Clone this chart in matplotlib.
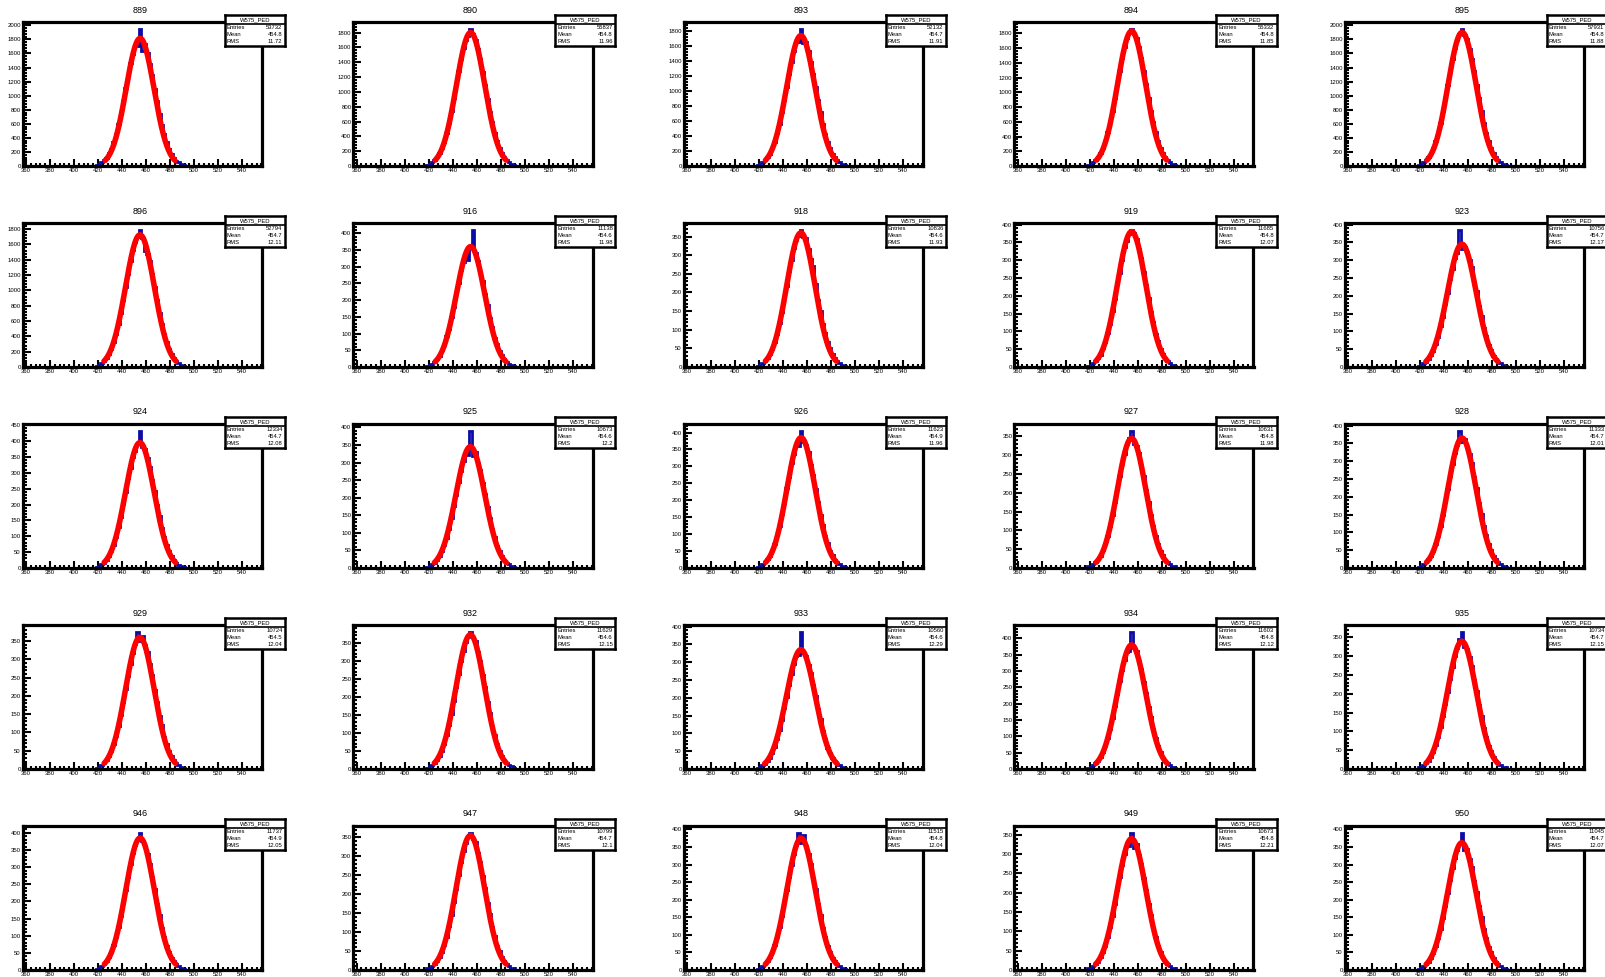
import numpy as np
import matplotlib
matplotlib.use("Agg")
import matplotlib.pyplot as plt
from matplotlib.ticker import MultipleLocator

plt.rcParams['font.family'] = ['Liberation Sans', 'DejaVu Sans']

# ---------------- data ----------------
channels = [889, 890, 893, 894, 895,
            896, 916, 918, 919, 923,
            924, 925, 926, 927, 928,
            929, 932, 933, 934, 935,
            946, 947, 948, 949, 950]
entries = [53732, 55837, 52132, 55332, 57931,
           52794, 11138, 10836, 11685, 10756,
           12334, 10673, 11623, 10631, 11333,
           10724, 11629, 10560, 11603, 10734,
           11737, 10799, 11515, 10673, 11045]
means = [454.8, 454.8, 454.7, 454.8, 454.8,
         454.7, 454.6, 454.6, 454.8, 454.7,
         454.7, 454.6, 454.9, 454.8, 454.7,
         454.5, 454.6, 454.6, 454.8, 454.7,
         454.9, 454.7, 454.8, 454.8, 454.7]
rms = [11.72, 11.96, 11.91, 11.85, 11.88,
       12.11, 11.98, 11.93, 12.07, 12.17,
       12.08, 12.2, 11.96, 11.98, 12.01,
       12.04, 12.15, 12.29, 12.12, 12.15,
       12.05, 12.1, 12.04, 12.21, 12.07]
hist_name = "W575_PED"

# gaussian fit parameters
fit_amp = [1815, 1800, 1740, 1830, 1900,
           1725, 360, 360, 380, 345,
           395, 345, 385, 345, 365,
           360, 372, 335, 380, 340,
           385, 355, 375, 340, 362]
fit_mean = [455.0, 455.0, 454.8, 455.0, 455.0,
            454.9, 455.0, 454.8, 455.0, 454.8,
            454.8, 454.8, 455.0, 455.0, 454.9,
            454.8, 454.8, 454.8, 455.0, 454.8,
            455.0, 454.8, 455.0, 455.0, 454.8]
fit_sigma = [11.6, 11.8, 11.8, 11.7, 11.7,
             12.0, 11.8, 11.8, 11.9, 12.0,
             11.9, 12.0, 11.8, 11.8, 11.8,
             11.9, 12.0, 12.1, 11.9, 12.0,
             11.9, 11.9, 11.9, 12.0, 11.9]

# histogram contents (2-ADC wide bins starting at 418)
bin_start = 418
bin_width = 2
h889 = [20, 35, 50, 85, 118, 178, 240, 345, 450, 600, 740, 925, 1110, 1280, 1470, 1590, 1720, 1700, 1950, 1640, 1730, 1600, 1450, 1300, 1100, 930, 745, 590, 455, 335, 245, 170, 120, 78, 52, 30, 18]
h890 = [18, 30, 52, 80, 120, 170, 245, 330, 450, 585, 740, 915, 1090, 1275, 1440, 1590, 1700, 1760, 1850, 1780, 1700, 1580, 1450, 1270, 1095, 910, 735, 590, 445, 335, 240, 175, 118, 80, 50, 32, 18]
h893 = [17, 30, 50, 77, 115, 165, 235, 325, 435, 565, 715, 880, 1055, 1230, 1390, 1530, 1650, 1660, 1830, 1640, 1650, 1530, 1390, 1230, 1060, 880, 715, 565, 430, 325, 235, 165, 115, 77, 50, 30, 17]
h894 = [19, 33, 53, 81, 121, 176, 247, 340, 455, 595, 752, 926, 1111, 1294, 1466, 1614, 1731, 1800, 1860, 1790, 1730, 1610, 1470, 1290, 1110, 925, 750, 595, 455, 340, 245, 175, 120, 80, 52, 32, 19]
h895 = [21, 34, 55, 84, 125, 182, 256, 353, 473, 617, 781, 961, 1153, 1343, 1522, 1676, 1797, 1870, 1950, 1860, 1800, 1670, 1520, 1345, 1150, 960, 780, 615, 472, 352, 256, 182, 125, 84, 55, 34, 21]
h896 = [18, 31, 50, 76, 114, 166, 233, 321, 430, 561, 709, 873, 1047, 1220, 1382, 1521, 1632, 1700, 1790, 1690, 1520, 1480, 1380, 1220, 1050, 870, 710, 560, 430, 320, 233, 166, 114, 76, 50, 31, 18]
h916 = [4, 7, 10, 15, 25, 34, 50, 66, 92, 115, 150, 180, 222, 252, 290, 315, 335, 320, 360, 410, 340, 318, 285, 258, 217, 184, 146, 119, 88, 68, 48, 35, 24, 16, 10, 6, 3]
h918 = [4, 6, 11, 16, 23, 36, 48, 68, 89, 118, 147, 184, 218, 257, 287, 320, 340, 352, 368, 350, 345, 316, 290, 270, 222, 180, 150, 115, 90, 66, 50, 34, 24, 15, 10, 6, 4]
h919 = [4, 7, 11, 17, 26, 35, 52, 70, 96, 122, 158, 190, 235, 265, 300, 338, 355, 372, 385, 376, 360, 332, 306, 268, 230, 194, 155, 125, 93, 72, 50, 37, 26, 17, 11, 7, 4]
h923 = [4, 6, 10, 15, 22, 34, 46, 65, 85, 114, 140, 177, 207, 246, 274, 306, 320, 385, 330, 338, 322, 300, 280, 240, 212, 172, 144, 110, 88, 62, 48, 32, 23, 15, 10, 6, 4]
h924 = [4, 7, 12, 17, 25, 39, 52, 74, 97, 130, 160, 202, 238, 282, 314, 350, 370, 392, 432, 380, 376, 345, 318, 276, 242, 198, 164, 126, 99, 72, 54, 37, 26, 17, 11, 7, 4]
h925 = [4, 6, 10, 15, 23, 33, 47, 64, 86, 112, 142, 175, 209, 244, 276, 304, 326, 320, 390, 318, 330, 300, 278, 242, 210, 174, 143, 110, 87, 63, 47, 33, 22, 15, 10, 6, 4]
h926 = [4, 7, 11, 17, 26, 36, 53, 71, 97, 124, 160, 193, 236, 270, 310, 338, 366, 360, 405, 372, 362, 342, 305, 274, 232, 196, 156, 126, 95, 73, 51, 38, 25, 17, 11, 7, 4]
h927 = [4, 6, 10, 15, 23, 33, 47, 64, 86, 112, 142, 175, 209, 244, 276, 304, 330, 345, 365, 330, 325, 306, 272, 246, 208, 176, 141, 113, 85, 65, 46, 34, 22, 15, 10, 6, 4]
h928 = [4, 7, 11, 16, 24, 35, 49, 68, 91, 119, 150, 185, 222, 258, 292, 322, 345, 385, 355, 362, 340, 320, 295, 256, 224, 183, 152, 117, 92, 67, 50, 34, 24, 16, 11, 7, 4]
h929 = [4, 6, 10, 16, 24, 35, 49, 67, 90, 117, 148, 182, 219, 255, 288, 318, 341, 375, 350, 365, 338, 320, 286, 257, 217, 184, 146, 119, 88, 68, 48, 35, 24, 16, 10, 6, 4]
h932 = [4, 7, 11, 16, 25, 36, 50, 69, 93, 121, 153, 188, 226, 263, 298, 328, 352, 367, 380, 365, 355, 325, 300, 260, 228, 186, 155, 119, 94, 68, 51, 35, 25, 16, 11, 7, 4]
h933 = [4, 6, 10, 15, 22, 32, 45, 62, 83, 109, 138, 170, 203, 237, 268, 295, 317, 320, 385, 325, 318, 292, 270, 235, 205, 168, 140, 107, 84, 60, 46, 31, 22, 15, 10, 6, 4]
h934 = [4, 7, 11, 17, 25, 36, 51, 71, 95, 124, 156, 192, 231, 269, 304, 335, 359, 360, 420, 372, 362, 332, 306, 266, 233, 190, 158, 122, 96, 70, 52, 35, 25, 17, 11, 7, 4]
h935 = [4, 6, 10, 15, 22, 33, 46, 63, 85, 111, 140, 172, 206, 240, 272, 300, 322, 345, 365, 325, 320, 298, 274, 238, 208, 170, 142, 109, 86, 61, 47, 32, 22, 15, 10, 6, 4]
h946 = [4, 7, 11, 17, 25, 37, 52, 72, 96, 125, 158, 195, 234, 272, 308, 340, 364, 380, 400, 375, 362, 338, 310, 270, 236, 193, 160, 123, 97, 70, 53, 36, 25, 17, 11, 7, 4]
h947 = [4, 6, 10, 16, 23, 34, 48, 66, 88, 115, 146, 180, 215, 251, 284, 313, 336, 350, 362, 345, 338, 310, 286, 248, 217, 178, 148, 113, 89, 64, 49, 33, 23, 16, 10, 6, 4]
h948 = [4, 7, 11, 17, 25, 36, 51, 70, 93, 122, 154, 190, 228, 265, 300, 331, 355, 390, 360, 385, 352, 330, 302, 262, 230, 188, 156, 120, 94, 68, 52, 35, 25, 17, 11, 7, 4]
h949 = [4, 6, 10, 15, 22, 33, 46, 63, 85, 111, 140, 172, 206, 240, 272, 300, 330, 320, 355, 315, 326, 298, 274, 238, 208, 170, 142, 109, 86, 61, 47, 32, 22, 15, 10, 6, 4]
h950 = [4, 7, 10, 16, 24, 35, 49, 67, 90, 118, 149, 183, 220, 256, 290, 319, 342, 357, 390, 340, 345, 316, 292, 254, 222, 181, 151, 116, 91, 66, 50, 34, 24, 16, 10, 7, 4]
hists = [h889, h890, h893, h894, h895, h896, h916, h918, h919, h923,
         h924, h925, h926, h927, h928, h929, h932, h933, h934, h935,
         h946, h947, h948, h949, h950]

x_min, x_max = 357.5, 556.5
x_tick_labels = [360, 380, 400, 420, 440, 460, 480, 500, 520, 540]

# ---------------- layout (pixels) ----------------
W, H = 1606, 977
fig = plt.figure(figsize=(W / 100, H / 100), dpi=100)
fig.patch.set_facecolor('white')

col_pitch, row_pitch = 330.5, 201
frame_left0, frame_top0 = 23, 22
frame_w, frame_h = 239, 144

blue = '#0b0ba6'
red = '#ff0000'

for i, ch in enumerate(channels):
    r, c = divmod(i, 5)
    fl = frame_left0 + c * col_pitch
    ft = frame_top0 + r * row_pitch
    ax = fig.add_axes([fl / W, 1 - (ft + frame_h) / H, frame_w / W, frame_h / H])

    counts = np.array(hists[i], dtype=float)
    edges = bin_start + bin_width * np.arange(len(counts) + 1)
    full_counts = np.concatenate([[0.0], counts, [0.0]])
    full_edges = np.concatenate([[x_min], edges, [x_max]])
    ax.stairs(full_counts, full_edges, color=blue, lw=2.0, baseline=None, zorder=2)

    mu, s, A = fit_mean[i], fit_sigma[i], fit_amp[i]
    xf = np.linspace(mu - 2.5 * s, mu + 2.5 * s, 400)
    ax.plot(xf, A * np.exp(-0.5 * ((xf - mu) / s) ** 2), color=red, lw=4.0,
            solid_capstyle='round', zorder=3)

    ymax = 1.05 * counts.max()
    ax.set_xlim(x_min, x_max)
    ax.set_ylim(0, ymax)

    if ymax > 1000:
        ax.yaxis.set_major_locator(MultipleLocator(200))
        ax.yaxis.set_minor_locator(MultipleLocator(40))
    else:
        ax.yaxis.set_major_locator(MultipleLocator(50))
        ax.yaxis.set_minor_locator(MultipleLocator(10))
    ax.set_xticks(x_tick_labels)
    ax.set_xticklabels([str(v) for v in x_tick_labels])
    ax.xaxis.set_minor_locator(MultipleLocator(4))

    ax.tick_params(which='both', direction='in', top=False, right=False,
                   labelsize=4.3, pad=1.5, width=1.5, colors='black')
    ax.tick_params(which='major', axis='y', length=6)
    ax.tick_params(which='minor', axis='y', length=3)
    ax.tick_params(which='major', axis='x', length=5)
    ax.tick_params(which='minor', axis='x', length=2.5)
    for sp in ax.spines.values():
        sp.set_linewidth(2.3)
        sp.set_color('black')

    ax.text(117 / frame_w, 1 + 12 / frame_h, str(ch), transform=ax.transAxes,
            ha='center', va='center', fontsize=6.5)

    # stats box
    bx, btop, bw, bh = fl + 202, ft - 7, 60, 31
    sb = fig.add_axes([bx / W, 1 - (btop + bh) / H, bw / W, bh / H])
    sb.set_xlim(0, bw)
    sb.set_ylim(bh, 0)
    sb.set_xticks([])
    sb.set_yticks([])
    sb.set_facecolor('white')
    for sp in sb.spines.values():
        sp.set_linewidth(1.8)
        sp.set_color('black')
    sb.axhline(9, color='black', lw=1.2)
    sb.text(bw / 2, 4.6, hist_name, ha='center', va='center', fontsize=4.2)
    rows_txt = [("Entries", f"{entries[i]}"),
                ("Mean", f"{means[i]:.4g}"),
                ("RMS", f"{rms[i]:.4g}")]
    for k, (lab, val) in enumerate(rows_txt):
        yy = 12.3 + 7.3 * k
        sb.text(2, yy, lab, ha='left', va='center', fontsize=4.2)
        sb.text(bw - 2.5, yy, val, ha='right', va='center', fontsize=4.2)

fig.savefig("out.png", dpi=100, facecolor='white')
